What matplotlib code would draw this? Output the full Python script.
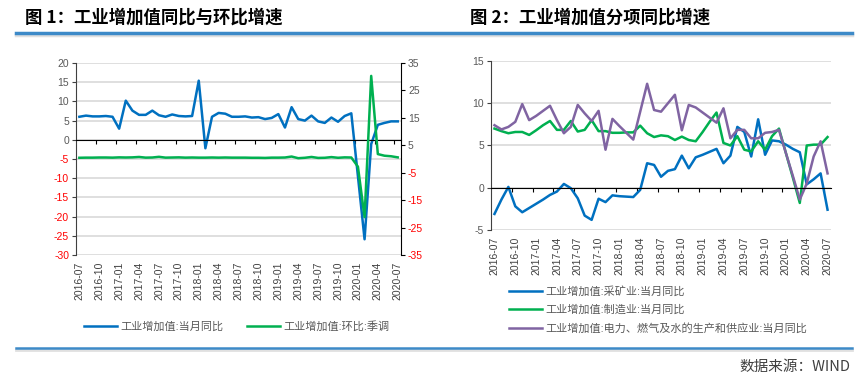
import matplotlib
matplotlib.use("Agg")
import matplotlib.pyplot as plt
from matplotlib.lines import Line2D

plt.rcParams["font.family"] = ["Liberation Sans", "Noto Sans CJK SC", "DejaVu Sans"]
plt.rcParams["axes.unicode_minus"] = False

# monthly categories 2016-07 .. 2020-07
months = []
for y in range(2016, 2021):
    for m in range(1, 13):
        if (y == 2016 and m < 7) or (y == 2020 and m > 7):
            continue
        months.append("%d-%02d" % (y, m))

# chart 1: 当月同比 (left axis) and 环比:季调 (right axis)
iva_yoy = [6.0, 6.3, 6.1, 6.1, 6.2, 6.0, 2.9, 10.2, 7.6, 6.5, 6.5, 7.6,
           6.4, 6.0, 6.6, 6.2, 6.1, 6.2, 15.4, -2.2, 6.0, 7.0, 6.8, 6.0,
           6.0, 6.1, 5.8, 5.9, 5.4, 5.7, 6.7, 3.2, 8.5, 5.4, 5.0, 6.3,
           4.8, 4.4, 5.8, 4.7, 6.2, 6.9, -9.5, -25.9, -1.1, 3.9, 4.4, 4.8, 4.8]
iva_mom = [0.45, 0.5, 0.5, 0.55, 0.55, 0.5, 0.6, 0.55, 0.6, 0.75, 0.5, 0.55,
           0.8, 0.5, 0.55, 0.6, 0.5, 0.55, 0.5, 0.5, 0.55, 0.5, 0.55, 0.5,
           0.5, 0.5, 0.45, 0.45, 0.4, 0.5, 0.5, 0.55, 0.9, 0.3, 0.45, 0.75,
           0.4, 0.45, 0.7, 0.45, 0.6, 0.55, -2.8, -21.2, 30.3, 1.8, 1.2, 1.0, 0.6]

# chart 2: 分项同比
mining = [-3.1, -1.4, 0.1, -2.2, -2.9, -2.4, -1.9, -1.4, -0.85, -0.45, 0.45, -0.05,
          -1.25, -3.3, -3.8, -1.3, -1.7, -0.9, -1.0, -1.05, -1.1, -0.25, 2.9, 2.7,
          1.3, 2.0, 2.2, 3.8, 2.3, 3.6, 3.9, 4.25, 4.6, 2.9, 3.8, 7.2,
          6.6, 3.7, 8.1, 3.9, 5.6, 5.5, 5.1, 4.6, 4.2, 0.4, 1.0, 1.7, -2.6]
manuf = [7.0, 6.7, 6.45, 6.6, 6.6, 6.25, 6.8, 7.4, 7.9, 6.85, 6.85, 7.9,
         6.65, 6.85, 8.0, 6.7, 6.7, 6.5, 6.5, 6.55, 6.55, 7.35, 6.45, 6.0,
         6.2, 6.1, 5.65, 6.05, 5.65, 5.5, 6.6, 7.8, 8.9, 5.3, 5.0, 6.1,
         4.5, 4.3, 5.5, 4.5, 6.1, 7.0, 4.1, 1.2, -1.8, 5.0, 5.1, 5.1, 6.0]
power = [7.4, 6.9, 7.2, 7.8, 9.9, 8.0, 8.5, 9.1, 9.7, 8.0, 6.45, 7.2,
         9.8, 8.8, 7.9, 9.1, 4.5, 8.15, 7.3, 6.5, 5.7, 9.0, 12.3, 9.2,
         9.0, 10.0, 11.0, 6.8, 9.8, 9.5, 8.9, 8.3, 7.7, 9.4, 5.85, 6.85,
         6.85, 5.85, 5.85, 6.5, 6.6, 6.85, 4.1, 1.4, -1.4, 0.5, 3.7, 5.5, 1.7]

blue = "#0070C0"
green = "#00B050"
purple = "#8064A2"
gray = "#595959"
red = "#FF0000"
grid = "#D9D9D9"

x = list(range(len(months)))
label_pos = x[::3]
label_txt = months[::3]
bound_ticks = [i - 0.5 for i in x[3::3]]

fig = plt.figure(figsize=(8.66, 3.76), dpi=100)


def style_axis(ax, yticks, ylim, neg_red=True):
    ax.set_xlim(-0.5, len(months) - 0.5)
    ax.set_ylim(*ylim)
    ax.set_yticks(yticks)
    ax.set_yticklabels([str(v) for v in yticks], fontsize=7.5)
    for t, v in zip(ax.get_yticklabels(), yticks):
        t.set_color(red if (neg_red and v < 0) else gray)
    ax.yaxis.grid(True, color=grid, lw=1.2)
    ax.set_axisbelow(True)
    ax.tick_params(axis="y", direction="out", length=3, color="#404040", pad=2)
    ax.spines["top"].set_visible(False)
    ax.spines["right"].set_visible(False)
    ax.spines["left"].set_color("#404040")
    ax.spines["bottom"].set_position(("data", 0))
    ax.spines["bottom"].set_color("black")
    ax.set_xticks(bound_ticks)
    ax.tick_params(axis="x", labelbottom=False, direction="out", length=3, color="black")
    sec = ax.secondary_xaxis("bottom")
    sec.set_xticks(label_pos)
    sec.set_xticklabels(label_txt, rotation=90, fontsize=7.5, color="#404040")
    sec.tick_params(length=0, pad=5)
    sec.spines["bottom"].set_visible(False)


# chart 1
ax1 = fig.add_axes([0.0878, 0.3218, 0.3753, 0.5106])
style_axis(ax1, list(range(20, -31, -5)), (-30, 20))
l1, = ax1.plot(x, iva_yoy, color=blue, lw=1.8)
ax1r = ax1.twinx()
ax1r.set_ylim(-35, 35)
rt = list(range(35, -36, -10))
ax1r.set_yticks(rt)
ax1r.set_yticklabels([str(v) for v in rt], fontsize=7.5)
for t, v in zip(ax1r.get_yticklabels(), rt):
    t.set_color(red if v < 0 else gray)
ax1r.tick_params(axis="y", direction="out", length=3, color="black", pad=2)
for s in ["top", "left", "bottom"]:
    ax1r.spines[s].set_visible(False)
ax1r.spines["right"].set_color("black")
l2, = ax1r.plot(x, iva_mom, color=green, lw=1.8)
fig.legend([l1, l2], ["工业增加值:当月同比", "工业增加值:环比:季调"],
           loc="center left", bbox_to_anchor=(0.085, 1 - 326 / 376), ncol=2,
           frameon=False, fontsize=8, labelcolor=gray, handlelength=3,
           handletextpad=0.3, columnspacing=2.1)

# chart 2
ax2 = fig.add_axes([0.567, 0.3883, 0.3926, 0.4495])
style_axis(ax2, [15, 10, 5, 0, -5], (-5, 15), neg_red=False)
m1, = ax2.plot(x, mining, color=blue, lw=1.8)
m2, = ax2.plot(x, manuf, color=green, lw=1.8)
m3, = ax2.plot(x, power, color=purple, lw=1.8)
fig.legend([m1, m2, m3],
           ["工业增加值:采矿业:当月同比", "工业增加值:制造业:当月同比",
            "工业增加值:电力、燃气及水的生产和供应业:当月同比"],
           loc="upper left", bbox_to_anchor=(0.576, 1 - 276 / 376), ncol=1,
           frameon=False, fontsize=8, labelcolor=gray, handlelength=3,
           handletextpad=0.3, labelspacing=0.7)

# titles and frame lines
fig.text(25 / 866, 1 - 18 / 376, "图 1：工业增加值同比与环比增速", fontsize=12.5,
         fontweight="bold", family=["Noto Sans CJK SC"], va="center")
fig.text(470 / 866, 1 - 18 / 376, "图 2：工业增加值分项同比增速", fontsize=12.5,
         fontweight="bold", family=["Noto Sans CJK SC"], va="center")
fig.add_artist(Line2D([16 / 866, 852 / 866], [1 - 35 / 376] * 2, color="#E0E0E0",
                      lw=2.5, transform=fig.transFigure))
fig.add_artist(Line2D([16 / 866, 852 / 866], [1 - 33 / 376] * 2, color="#3D8AC8",
                      lw=2.5, transform=fig.transFigure))
fig.add_artist(Line2D([16 / 866, 852 / 866], [1 - 350 / 376] * 2, color="#E0E0E0",
                      lw=2, transform=fig.transFigure))
fig.add_artist(Line2D([16 / 866, 852 / 866], [1 - 348 / 376] * 2, color="#3D8AC8",
                      lw=1.8, transform=fig.transFigure))
fig.text(850 / 866, 1 - 374 / 376, "数据来源：WIND", fontsize=10.5, color="#404040",
         ha="right", va="bottom", family=["Noto Sans CJK SC"])

fig.savefig("out.png", dpi=100)
